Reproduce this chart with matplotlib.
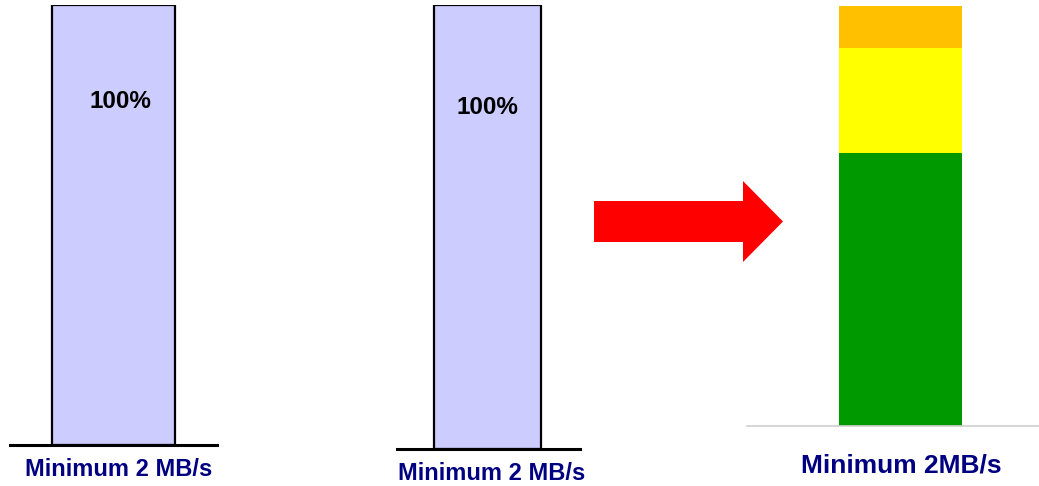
import matplotlib.pyplot as plt
from matplotlib.patches import FancyArrow

# data
before_labels = ["Minimum 2 MB/s", "Minimum 2 MB/s"]
before_share = [100, 100]
after_label = "Minimum 2MB/s"
after_parts = [65, 25, 10]
after_colors = ["#009900", "#FFFF00", "#FFC000"]

W, H = 1039, 486
fig = plt.figure(figsize=(W / 100, H / 100), dpi=100)
font = ["Liberation Sans", "DejaVu Sans"]


def px_axes(x0, x1, ybot, ytop):
    return fig.add_axes([x0 / W, 1 - ybot / H, (x1 - x0) / W, (ybot - ytop) / H])


def clean(ax):
    for s in ["top", "right", "left"]:
        ax.spines[s].set_visible(False)
    ax.set_yticks([])
    ax.set_ylim(0, 100)
    ax.tick_params(axis="x", length=0)


# two "before" panels
panels = [(10, 217, 445, 5, -0.841, 0.841, 0.06, 78),
          (397, 580, 449, 5, -0.846, 0.864, 0.0, 77)]
for i, (x0, x1, yb, yt, lo, hi, tx, ty) in enumerate(panels):
    ax = px_axes(x0, x1, yb, yt)
    ax.bar([0], [before_share[i]], width=1, color="#CCCCFF",
           edgecolor="black", linewidth=1.6)
    ax.set_xlim(lo, hi)
    clean(ax)
    ax.spines["bottom"].set_linewidth(2.2)
    ax.set_xticks([0.04])
    ax.set_xticklabels([before_labels[i]], color="#000080", fontsize=17,
                       fontweight="bold", family=font)
    ax.tick_params(axis="x", pad=9)
    ax.text(tx, ty, f"{before_share[i]}%", ha="center", va="center",
            fontsize=17.5, fontweight="bold", family=font)

# "after" panel
ax = px_axes(747, 1039, 426, 6)
bottom = 0
for v, c in zip(after_parts, after_colors):
    ax.bar([0], [v], bottom=bottom, width=1, color=c, linewidth=0)
    bottom += v
ax.set_xlim(-1.248, 1.126)
clean(ax)
ax.spines["bottom"].set_color("#D0D0D0")
ax.spines["bottom"].set_linewidth(1.2)
ax.set_xticks([0.01])
ax.set_xticklabels([after_label], color="#000080", fontsize=19,
                   fontweight="bold", family=font)
ax.tick_params(axis="x", pad=20)

# red arrow between the panels
arrow = FancyArrow(594 / W, 1 - 221.5 / H, (783 - 594) / W, 0,
                   width=41 / H, head_width=81 / H, head_length=40 / W,
                   length_includes_head=True, color="#FF0000", linewidth=0,
                   transform=fig.transFigure)
fig.add_artist(arrow)

fig.savefig("out.png", dpi=100)
